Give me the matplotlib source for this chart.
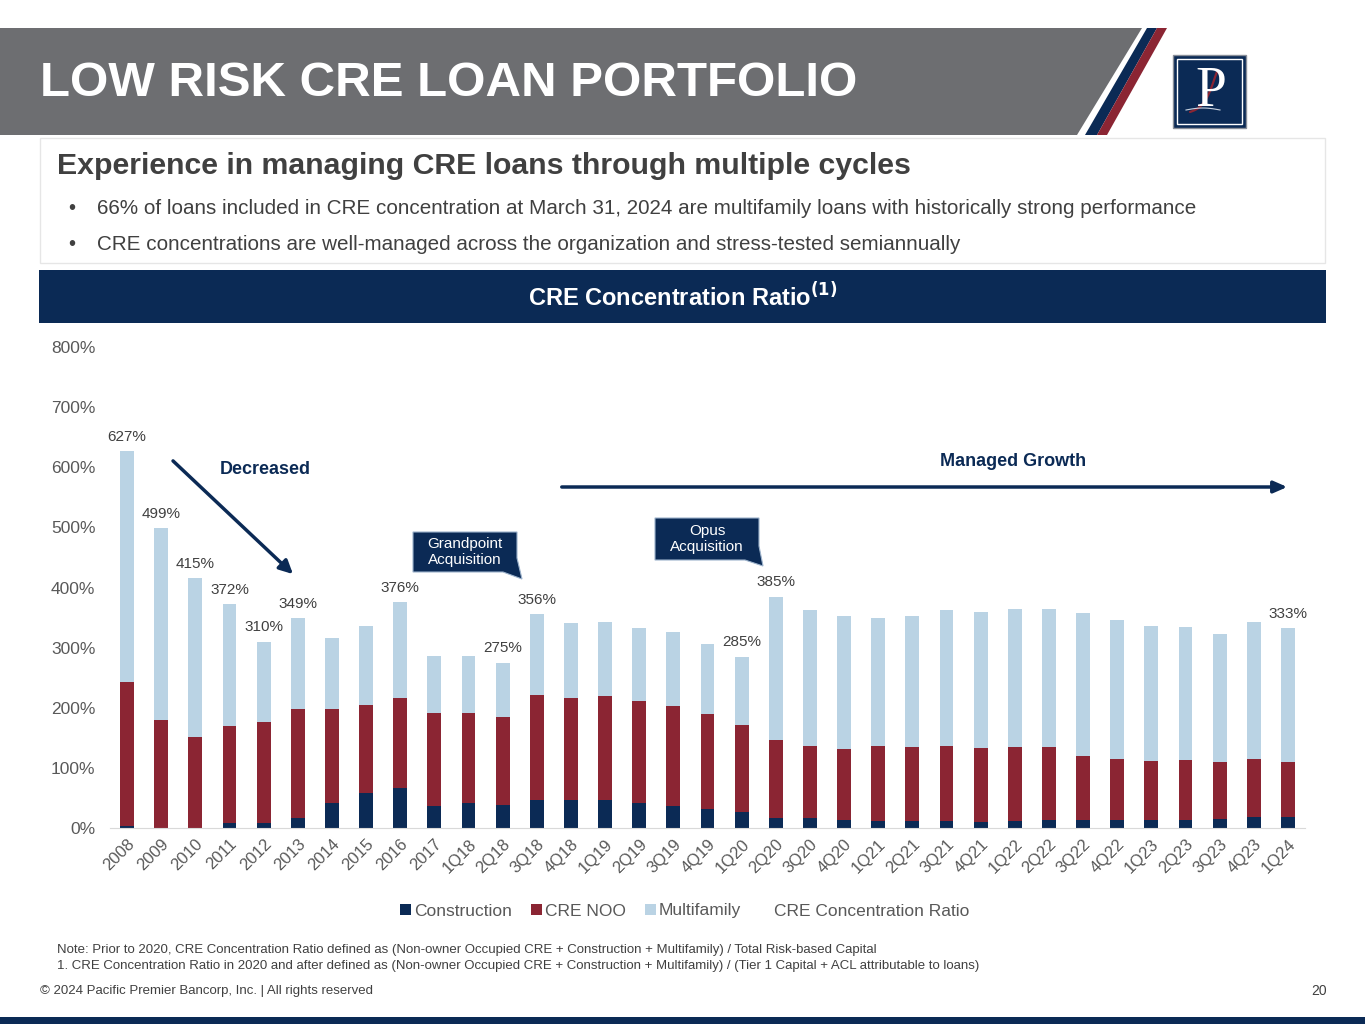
import numpy as np
import matplotlib
matplotlib.use("Agg")
import matplotlib.pyplot as plt
from matplotlib.patches import Polygon, Rectangle
from matplotlib.lines import Line2D

plt.rcParams['font.family'] = ['Liberation Sans', 'DejaVu Sans']

NAVY = "#0b2a55"
MAROON = "#8b2533"
LIGHT = "#bad3e4"
GRAY_TXT = "#595959"
DARK_TXT = "#404040"

periods = ["2008", "2009", "2010", "2011", "2012", "2013", "2014", "2015", "2016", "2017",
           "1Q18", "2Q18", "3Q18", "4Q18", "1Q19", "2Q19", "3Q19", "4Q19",
           "1Q20", "2Q20", "3Q20", "4Q20", "1Q21", "2Q21", "3Q21", "4Q21",
           "1Q22", "2Q22", "3Q22", "4Q22", "1Q23", "2Q23", "3Q23", "4Q23", "1Q24"]
construction = [3, 0, 0, 9, 9, 17, 41, 59, 66, 37,
                41, 39, 47, 46, 46, 41, 37, 31,
                26, 17, 16, 14, 12, 11, 11, 10,
                12, 13, 13, 14, 14, 14, 15, 18, 19]
cre_noo = [240, 179, 152, 161, 167, 181, 157, 146, 150, 155,
           151, 145, 174, 170, 174, 171, 166, 159,
           146, 130, 121, 117, 124, 124, 126, 123,
           123, 122, 107, 101, 98, 99, 94, 97, 91]
multifamily = [384, 320, 263, 202, 134, 151, 118, 131, 160, 94,
               94, 91, 135, 125, 122, 120, 123, 116,
               113, 238, 226, 221, 213, 217, 225, 227,
               229, 229, 238, 231, 224, 221, 213, 227, 223]
labeled = ["2008", "2009", "2010", "2011", "2012", "2013", "2016",
           "2Q18", "3Q18", "1Q20", "2Q20", "1Q24"]

W, H = 1365, 1024
fig = plt.figure(figsize=(W / 100, H / 100), dpi=100)

# page decoration layer in pixel coordinates
bg = fig.add_axes([0, 0, 1, 1])
bg.set_xlim(0, W)
bg.set_ylim(H, 0)
bg.axis("off")

bg.add_patch(Polygon([(0, 28), (1142, 28), (1077, 135), (0, 135)], closed=True, color="#6d6e71", lw=0))
bg.add_patch(Polygon([(1147, 28), (1157, 28), (1097, 135), (1085, 135)], closed=True, color=NAVY, lw=0))
bg.add_patch(Polygon([(1157, 28), (1167, 28), (1107, 135), (1097, 135)], closed=True, color=MAROON, lw=0))
bg.text(40, 83, "LOW RISK CRE LOAN PORTFOLIO", color="white", fontsize=35.5, fontweight="bold",
        va="center", ha="left")

# logo
bg.add_patch(Rectangle((1173, 55), 73, 73, facecolor=NAVY, edgecolor="#8a8f99", lw=1))
bg.add_patch(Rectangle((1177, 59), 65, 65, facecolor="none", edgecolor="white", lw=1))
bg.text(1211, 92, "P", color="white", fontsize=40, family="Liberation Serif", ha="center", va="center")
t = np.linspace(0, 1, 40)
bg.plot(1190 + 28 * t + 6 * np.sin(np.pi * t), 112 - 42 * t + 4 * np.sin(2 * np.pi * t),
        color=MAROON, lw=1.6, solid_capstyle="round")
bg.plot(1186 + 34 * t, 110 - 2 * np.sin(np.pi * t), color="#c9d3e0", lw=0.8)

# subtitle box
bg.add_patch(Rectangle((40, 138), 1285, 125, facecolor="white", edgecolor="#e6e6e6", lw=1))
bg.text(57, 166, "Experience in managing CRE loans through multiple cycles", color=DARK_TXT,
        fontsize=21.8, fontweight="bold", va="center")
bg.text(68, 209, "•", color=DARK_TXT, fontsize=14.5, va="center")
bg.text(97, 209, "66% of loans included in CRE concentration at March 31, 2024 are multifamily loans "
        "with historically strong performance", color=DARK_TXT, fontsize=14.9, va="center")
bg.text(68, 245, "•", color=DARK_TXT, fontsize=14.5, va="center")
bg.text(97, 245, "CRE concentrations are well-managed across the organization and stress-tested semiannually",
        color=DARK_TXT, fontsize=14.9, va="center")

# navy band
bg.add_patch(Rectangle((39, 270), 1287, 53, facecolor=NAVY, lw=0))
bg.text(683, 297, r"CRE Concentration Ratio$^{\mathbf{(1)}}$", color="white", fontsize=17,
        fontweight="bold", ha="center", va="center")

# notes and footer
bg.text(57, 950, "Note: Prior to 2020, CRE Concentration Ratio defined as (Non-owner Occupied CRE + "
        "Construction + Multifamily) / Total Risk-based Capital", color=DARK_TXT, fontsize=9.5, va="center")
bg.text(57, 966, "1. CRE Concentration Ratio in 2020 and after defined as (Non-owner Occupied CRE + "
        "Construction + Multifamily) / (Tier 1 Capital + ACL attributable to loans)",
        color=DARK_TXT, fontsize=9.5, va="center")
bg.text(40, 991, "© 2024 Pacific Premier Bancorp, Inc. | All rights reserved", color=DARK_TXT,
        fontsize=9.5, va="center")
bg.text(1327, 991, "20", color=DARK_TXT, fontsize=10, va="center", ha="right")
bg.add_patch(Rectangle((0, 1017), W, 7, facecolor=NAVY, lw=0))

# arrows and callouts
bg.annotate("", xy=(295, 576), xytext=(171, 459),
            arrowprops=dict(arrowstyle="-|>,head_length=0.8,head_width=0.4", color=NAVY, lw=2.5))
bg.text(265, 470, "Decreased", color=NAVY, fontsize=13, fontweight="bold", ha="center", va="center")
bg.annotate("", xy=(1290, 487), xytext=(559, 487),
            arrowprops=dict(arrowstyle="-|>,head_length=0.8,head_width=0.35", color=NAVY, lw=2.5))
bg.text(1013, 462, "Managed Growth", color=NAVY, fontsize=13, fontweight="bold", ha="center", va="center")

def callout(x0, y0, x1, y1, tip, text):
    pts = [(x0, y0), (x1, y0), (x1, y1 - 14), (tip[0], tip[1]), (x1 - 14, y1), (x0, y1)]
    bg.add_patch(Polygon(pts, closed=True, facecolor=NAVY, edgecolor="#9db3cc", lw=0.8))
    bg.text((x0 + x1) / 2, (y0 + y1) / 2, text, color="white", fontsize=11, ha="center",
            va="center", linespacing=1.25)

callout(413, 532, 517, 572, (522, 579), "Grandpoint\nAcquisition")
callout(655, 518, 759, 560, (763, 566), "Opus\nAcquisition")

# chart
ax = fig.add_axes([110 / W, 1 - 828 / H, (1305 - 110) / W, (828 - 347) / H])
ax.patch.set_alpha(0)
x = np.arange(len(periods))
cons = np.array(construction)
noo = np.array(cre_noo)
mf = np.array(multifamily)
b1 = ax.bar(x, cons, width=0.41, color=NAVY, label="Construction")
b2 = ax.bar(x, noo, width=0.41, bottom=cons, color=MAROON, label="CRE NOO")
b3 = ax.bar(x, mf, width=0.41, bottom=cons + noo, color=LIGHT, label="Multifamily")
total = cons + noo + mf
for i, p in enumerate(periods):
    if p in labeled:
        ax.text(i, total[i] + 12, f"{total[i]:.0f}%", ha="center", va="bottom",
                fontsize=11, color=DARK_TXT)

ax.set_xlim(-0.5, len(periods) - 0.5)
ax.set_ylim(0, 800)
ax.set_yticks(np.arange(0, 801, 100))
ax.set_yticklabels([f"{v}%" for v in range(0, 801, 100)], fontsize=12.5, color=GRAY_TXT)
ax.set_xticks(x)
ax.set_xticklabels(periods, rotation=45, ha="right", rotation_mode="anchor", fontsize=12, color=GRAY_TXT)
ax.tick_params(axis="both", length=0)
ax.tick_params(axis="y", pad=10.5)
ax.tick_params(axis="x", pad=6)
for s in ["top", "right", "left"]:
    ax.spines[s].set_visible(False)
ax.spines["bottom"].set_color("#d9d9d9")

ratio_handle = Line2D([], [], color="none")
fig.legend([b1, b2, b3, ratio_handle],
           ["Construction", "CRE NOO", "Multifamily", "CRE Concentration Ratio"],
           loc="center", bbox_to_anchor=(685 / W, 1 - 911 / H), ncol=4, frameon=False,
           fontsize=12.5, labelcolor=GRAY_TXT, handlelength=0.6, handleheight=0.6,
           handletextpad=0.2, columnspacing=1.1)

fig.savefig("out.png", dpi=100)
